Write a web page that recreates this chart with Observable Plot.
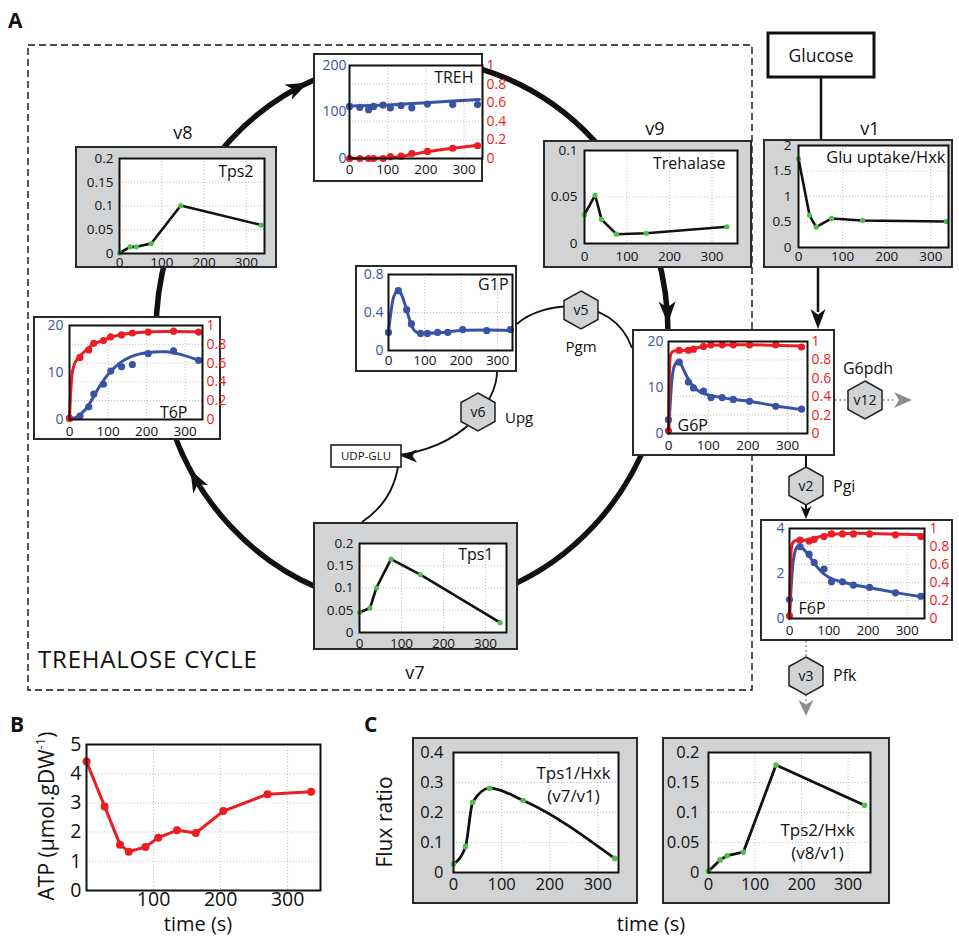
<!DOCTYPE html>
<html>
<head>
<meta charset="utf-8">
<script src="https://cdn.jsdelivr.net/npm/d3@7"></script>
<script src="https://cdn.jsdelivr.net/npm/@observablehq/plot@0.6"></script>
<style>
  body { margin: 0; background: #fff; }
  #fig { position: relative; width: 959px; height: 939px; overflow: hidden; font-family: "Open Sans", sans-serif; }
  .box { position: absolute; box-sizing: border-box; border: 2px solid #2a2a2a; }
  .gray { background: #d2d3d5; }
  .white { background: #fff; }
</style>
</head>
<body>
<div id="fig"></div>
<script>
// ---- measurement times (s) ----
const tMet = [0, 27, 50, 63, 88, 107, 135, 163, 204, 270, 335];
const tFlux = [0, 25, 40, 75, 145, 335];

// ---- estimated fluxes (mM/s) ----
const fluxHxk = [1.74, 0.63, 0.40, 0.57, 0.53, 0.51];
const fluxTrehalase = [0.031, 0.052, 0.026, 0.010, 0.011, 0.018];
const fluxTps2 = [0.001, 0.014, 0.014, 0.021, 0.101, 0.060];
const fluxTps1 = [0.045, 0.055, 0.100, 0.165, 0.130, 0.022];

// ---- flux ratios (panel C) ----
const ratioTps1Hxk = [0.028, 0.087, 0.234, 0.281, 0.240, 0.047];
const ratioTps2Hxk = [0.002, 0.021, 0.028, 0.034, 0.179, 0.112];

// ---- ATP (panel B) ----
const atp = [4.42, 2.88, 1.57, 1.33, 1.49, 1.81, 2.06, 1.97, 2.72, 3.30, 3.38];

// ---- metabolites: concentration (blue) and 13C-labelled fraction (red) ----
const trehConc = [112, 110, 105, 112, 115, 109, 114, 109, 117, 116, 116];
const trehFrac = [0, 0, 0, 0, 0, 0.02, 0.025, 0.054, 0.076, 0.11, 0.137];
const trehConcFitT = [0, 100, 200, 340];
const trehConcFit = [113, 115, 120, 127];
const trehFracFitT = [0, 80, 130, 200, 270, 340];
const trehFracFit = [0, 0.005, 0.02, 0.07, 0.11, 0.145];

const t6pConc = [0.3, 0.7, 2.7, 5.4, 7.5, 10.3, 11.2, 11.7, 14.0, 14.6, 12.6];
const t6pFrac = [0.01, 0.66, 0.74, 0.81, 0.84, 0.88, 0.90, 0.92, 0.93, 0.94, 0.93];
const t6pConcFitT = [0, 20, 40, 60, 80, 100, 130, 160, 200, 250, 290, 335];
const t6pConcFit = [0, 0.6, 2, 4.5, 7.3, 9.6, 12, 13.4, 14.2, 14.4, 13.8, 12.6];
const t6pFracFitT = [0, 4, 8, 15, 26, 46, 61, 85, 104, 130, 200, 270, 340];
const t6pFracFit = [0, 0.35, 0.52, 0.61, 0.67, 0.75, 0.8, 0.84, 0.87, 0.9, 0.93, 0.935, 0.93];

const g1pConc = [0.19, 0.63, 0.43, 0.28, 0.18, 0.18, 0.19, 0.19, 0.22, 0.21, 0.22];
const g1pConcFitT = [0, 6, 14, 24, 34, 44, 55, 66, 78, 100, 150, 200, 270, 335];
const g1pConcFit = [0.19, 0.38, 0.56, 0.63, 0.6, 0.5, 0.36, 0.24, 0.19, 0.18, 0.19, 0.21, 0.215, 0.21];

const g6pConc = [3.0, 15.5, 11.2, 9.9, 9.2, 7.8, 7.8, 7.4, 7.0, 5.9, 5.3];
const g6pFrac = [0.03, 0.905, 0.905, 0.917, 0.946, 0.964, 0.964, 0.964, 0.964, 0.964, 0.94];
const g6pConcFitT = [0, 4, 8, 14, 22, 30, 40, 52, 65, 80, 100, 135, 165, 204, 270, 335];
const g6pConcFit = [0, 6, 11, 14.5, 15.6, 15.2, 13.5, 11.5, 10, 9, 8.4, 7.8, 7.4, 7.0, 6.0, 5.2];
const g6pFracFitT = [0, 2, 5, 10, 30, 55, 80, 110, 200, 335];
const g6pFracFit = [0, 0.5, 0.85, 0.89, 0.9, 0.91, 0.94, 0.96, 0.965, 0.95];

const f6pConc = [0.84, 3.19, 2.86, 2.49, 2.2, 1.63, 1.63, 1.48, 1.38, 1.14, 0.99];
const f6pFrac = [0.03, 0.87, 0.86, 0.88, 0.91, 0.94, 0.94, 0.94, 0.94, 0.93, 0.91];
const f6pConcFitT = [0, 5, 10, 18, 26, 40, 55, 70, 90, 110, 135, 163, 204, 270, 335];
const f6pConcFit = [0, 1.6, 2.6, 3.15, 3.2, 3.0, 2.65, 2.3, 1.95, 1.75, 1.62, 1.5, 1.37, 1.15, 0.97];
const f6pFracFitT = [0, 3, 7, 14, 40, 70, 100, 150, 250, 335];
const f6pFracFit = [0, 0.6, 0.83, 0.865, 0.87, 0.9, 0.93, 0.945, 0.94, 0.93];

// ---- tick values ----
const xTicks = [0, 100, 200, 300];
const fracTicks = [0, 0.2, 0.4, 0.6, 0.8, 1];
const fluxTicks02 = [0, 0.05, 0.1, 0.15, 0.2];
const fluxTicks01 = [0, 0.05, 0.1];
const fluxTicks2 = [0, 0.5, 1, 1.5, 2];
const ratioTicks04 = [0, 0.1, 0.2, 0.3, 0.4];
const atpTicks = [0, 1, 2, 3, 4, 5];

// ---- styling ----
const FONT = "'Open Sans', sans-serif";
const BLUE = "#3953a4", RED = "#ec1c24", GREEN = "#4dbf4a";
const fmt = d3.format("~g");
const gridStyle = {stroke: "#9a9a9a", strokeOpacity: 0.8, strokeWidth: 0.8, strokeDasharray: "1,2"};
const zip = (t, v, k = 1) => t.map((d, i) => ({t: d, v: v[i] * k}));

const fig = document.getElementById("fig");

// background layer: cycle, connectors, labels
const svg = d3.select(fig).append("svg")
  .attr("width", 959).attr("height", 939)
  .style("position", "absolute").style("left", "0px").style("top", "0px")
  .attr("font-family", FONT);

function addBox(cls, [x0, y0, x1, y1], bw = 2) {
  const d = document.createElement("div");
  d.className = "box " + cls;
  Object.assign(d.style, {left: x0 + "px", top: y0 + "px", width: (x1 - x0) + "px", height: (y1 - y0) + "px", borderWidth: bw + "px"});
  fig.appendChild(d);
  return d;
}
function mountPlot(div, plot, bw = 2) {
  plot.style.position = "absolute";
  plot.style.left = -bw + "px";
  plot.style.top = -bw + "px";
  div.appendChild(plot);
}
function layout(box, frame) {
  return {
    width: box[2] - box[0], height: box[3] - box[1],
    marginLeft: frame[0] - box[0], marginTop: frame[1] - box[1],
    marginRight: box[2] - frame[2], marginBottom: box[3] - frame[3]
  };
}
const plotStyle = {background: "none", overflow: "visible", maxWidth: "none", fontFamily: FONT, color: "#111"};

// single-axis flux panel
function fluxPanel(c) {
  const rows = zip(c.t, c.v);
  const div = addBox(c.cls, c.box);
  const plot = Plot.plot({
    ...layout(c.box, c.frame),
    style: plotStyle,
    x: {domain: [0, c.xMax]},
    y: {domain: [0, c.yMax]},
    marks: [
      Plot.frame({fill: "white", stroke: "none"}),
      Plot.gridX({ticks: [100, 200, 300], ...gridStyle}),
      Plot.gridY({ticks: c.yTicks.slice(1, -1), ...gridStyle}),
      Plot.axisX({ticks: xTicks, tickSize: 0, tickPadding: c.padX, fontSize: c.fs, label: null, color: "#111"}),
      Plot.axisY({ticks: c.yTicks, tickSize: 0, tickPadding: c.padY, fontSize: c.fs, tickFormat: fmt, label: null, color: "#111"}),
      Plot.line(rows, {x: "t", y: "v", stroke: "#111", strokeWidth: c.lw || 2.6, curve: c.curve || "linear"}),
      Plot.dot(rows, {x: "t", y: "v", fill: GREEN, r: c.r || 2.6}),
      Plot.frame({stroke: "#111", strokeWidth: 2}),
      Plot.text([c.label], {text: d => d, frameAnchor: c.anchor || "top-right", textAnchor: c.textAnchor || "end",
        lineAnchor: "top", dx: c.dx, dy: c.dy, fontSize: c.lfs || 16, lineHeight: c.lh || 1, fill: "#111"})
    ]
  });
  mountPlot(div, plot);
}

// metabolite panel: concentration on the left axis, labelled fraction on the right axis
function metPanel(c) {
  const k = c.yMax;
  const blueRows = zip(tMet, c.conc);
  const blueFit = zip(c.concFitT, c.concFit);
  const hasRed = !!c.frac;
  const div = addBox("white", c.box);
  const marks = [
    Plot.frame({fill: "white", stroke: "none"}),
    Plot.gridX({ticks: [100, 200, 300], ...gridStyle}),
    Plot.gridY({ticks: hasRed ? fracTicks.slice(1, -1).map(d => d * k) : c.leftTicks.slice(1, -1), ...gridStyle}),
    Plot.axisX({ticks: xTicks, tickSize: 0, tickPadding: c.padX, fontSize: 13.5, label: null, color: "#111"}),
    Plot.axisY({ticks: c.leftTicks, tickSize: 0, tickPadding: c.padY, fontSize: 14, tickFormat: fmt, label: null, color: BLUE})
  ];
  if (hasRed) {
    marks.push(Plot.axisY({anchor: "right", ticks: fracTicks.map(d => d * k), tickSize: 0, tickPadding: c.padR, fontSize: 14,
      tickFormat: d => fmt(+(d / k).toFixed(3)), label: null, color: RED}));
  }
  marks.push(
    Plot.line(blueFit, {x: "t", y: "v", stroke: BLUE, strokeWidth: 3, curve: "catmull-rom"}),
    Plot.dot(blueRows, {x: "t", y: "v", fill: BLUE, r: 3.6})
  );
  if (hasRed) {
    marks.push(
      Plot.line(zip(c.fracFitT, c.fracFit, k), {x: "t", y: "v", stroke: RED, strokeWidth: 3, curve: "catmull-rom"}),
      Plot.dot(zip(tMet, c.frac, k), {x: "t", y: "v", fill: RED, r: 3.6})
    );
  }
  marks.push(
    Plot.frame({stroke: "#111", strokeWidth: 2}),
    Plot.text([c.label], {text: d => d, frameAnchor: c.anchor, textAnchor: c.textAnchor, lineAnchor: c.lineAnchor || "top",
      dx: c.dx, dy: c.dy, fontSize: 16, fill: "#111"})
  );
  const plot = Plot.plot({
    ...layout(c.box, c.frame),
    style: plotStyle,
    x: {domain: [0, c.xMax]},
    y: {domain: [0, c.yMax]},
    marks
  });
  mountPlot(div, plot);
}

// ---------- diagram background ----------
function arrowHead(tip, ang, L, W, fill) {
  const ux = Math.cos(ang), uy = Math.sin(ang), px = -uy, py = ux;
  const [x, y] = tip;
  const pts = [
    [x, y],
    [x - L * ux + W / 2 * px, y - L * uy + W / 2 * py],
    [x - 0.72 * L * ux, y - 0.72 * L * uy],
    [x - L * ux - W / 2 * px, y - L * uy - W / 2 * py]
  ];
  svg.append("polygon").attr("points", pts.map(p => p.join(",")).join(" ")).attr("fill", fill);
}
function hexagon(cx, cy, name) {
  const w = 34, h = 38;
  const pts = [[cx, cy - h / 2], [cx + w / 2, cy - h / 4], [cx + w / 2, cy + h / 4], [cx, cy + h / 2], [cx - w / 2, cy + h / 4], [cx - w / 2, cy - h / 4]];
  svg.append("polygon").attr("points", pts.map(p => p.join(",")).join(" "))
    .attr("fill", "#d2d3d5").attr("stroke", "#222").attr("stroke-width", 1.5);
  svg.append("text").attr("x", cx).attr("y", cy).attr("dy", "0.36em").attr("text-anchor", "middle")
    .attr("font-size", 14).attr("fill", "#111").text(name);
}
function label(x, y, str, size, opts = {}) {
  const t = svg.append("text").attr("x", x).attr("y", y).attr("font-size", size).attr("fill", "#111")
    .attr("text-anchor", opts.anchor || "start").text(str);
  if (opts.bold) t.attr("font-weight", 700);
  if (opts.spacing) t.attr("letter-spacing", opts.spacing);
  if (opts.rotate) t.attr("transform", `rotate(-90 ${x} ${y})`);
  return t;
}

// dashed boundary of the trehalose cycle
svg.append("rect").attr("x", 28).attr("y", 45).attr("width", 724).attr("height", 645)
  .attr("fill", "none").attr("stroke", "#111").attr("stroke-width", 1.4).attr("stroke-dasharray", "7,4");

// the cycle
const E = {cx: 412, cy: 333, rx: 256, ry: 274};
svg.append("ellipse").attr("cx", E.cx).attr("cy", E.cy).attr("rx", E.rx).attr("ry", E.ry)
  .attr("fill", "none").attr("stroke", "#111").attr("stroke-width", 5.5);
function cycleArrow(deg) {
  const t = deg * Math.PI / 180;
  const tip = [E.cx + E.rx * Math.cos(t), E.cy + E.ry * Math.sin(t)];
  const ang = Math.atan2(E.ry * Math.cos(t), -E.rx * Math.sin(t));
  arrowHead(tip, ang, 22, 17, "#111");
}
cycleArrow(246);
cycleArrow(-2);
cycleArrow(150);

// inner branch G6P -> G1P -> UDP-GLU -> Tps1
const thin = {fill: "none", stroke: "#111", "stroke-width": 1.8};
function path(d, st = thin) {
  const p = svg.append("path").attr("d", d);
  Object.entries(st).forEach(([k, v]) => p.attr(k, v));
}
path("M517,324 C540,302 612,292 632,348");
path("M497,372 C497,398 468,448 392,456");
arrowHead([401, 456], Math.PI, 16, 13, "#111");
path("M398,467 Q392,502 362,522");

// glycolysis connectors
const thick = {fill: "none", stroke: "#111", "stroke-width": 2.5};
path("M821,77 L821,139", thick);
path("M818,268 L818,312", thick);
arrowHead([818, 329], Math.PI / 2, 20, 15, "#111");
path("M806,456 L806,467", {...thin, "stroke-width": 2});
path("M806,505 L806,510", {...thin, "stroke-width": 2});
arrowHead([806, 519], Math.PI / 2, 13, 11, "#111");
const dotted = {fill: "none", stroke: "#9a9a9a", "stroke-width": 2, "stroke-dasharray": "1.5,3"};
path("M835,400 L848,400", dotted);
path("M883,400 L896,400", dotted);
arrowHead([912, 400], 0, 18, 16, "#8e8e8e");
path("M806,641 L806,657", dotted);
path("M806,695 L806,702", dotted);
arrowHead([806, 716], Math.PI / 2, 16, 15, "#8e8e8e");

hexagon(581, 310, "v5");
hexagon(478, 412, "v6");
hexagon(865, 400, "v12");
hexagon(806, 486, "v2");
hexagon(806, 676, "v3");

label(581, 352, "Pgm", 15, {anchor: "middle"});
label(505, 423, "Upg", 15);
label(868, 374, "G6pdh", 16, {anchor: "middle"});
label(833, 492, "Pgi", 16);
label(833, 681, "Pfk", 16);

label(8, 28, "A", 21, {bold: true});
label(10, 732, "B", 21, {bold: true});
label(364, 732, "C", 21, {bold: true});
label(183, 139, "v8", 18, {anchor: "middle"});
label(655, 135, "v9", 18, {anchor: "middle"});
label(870, 135, "v1", 18, {anchor: "middle"});
label(415, 679, "v7", 18, {anchor: "middle"});
label(38, 668, "TREHALOSE CYCLE", 24, {spacing: 0.8});

// Glucose and UDP-GLU boxes
svg.append("rect").attr("x", 768).attr("y", 33).attr("width", 106).attr("height", 44)
  .attr("fill", "white").attr("stroke", "#111").attr("stroke-width", 3);
label(821, 62, "Glucose", 17.5, {anchor: "middle"});
svg.append("rect").attr("x", 331).attr("y", 445).attr("width", 70).attr("height", 22)
  .attr("fill", "white").attr("stroke", "#111").attr("stroke-width", 1.5);
label(366, 460, "UDP-GLU", 11.5, {anchor: "middle"});

// axis titles of B and C
const atpLab = label(54, 816, "ATP (µmol.gDW", 21, {anchor: "middle", rotate: true});
atpLab.append("tspan").attr("font-size", 13).attr("dy", -9).text("-1");
atpLab.append("tspan").attr("dy", 9).text(")");
label(198, 931, "time (s)", 20, {anchor: "middle"});
label(392, 822, "Flux ratio", 21, {anchor: "middle", rotate: true});
label(651, 931, "time (s)", 20, {anchor: "middle"});

// ---------- panels of A ----------
fluxPanel({cls: "gray", box: [75, 146, 277, 268], frame: [119, 158, 264, 253], xMax: 343, yMax: 0.2,
  yTicks: fluxTicks02, t: tFlux, v: fluxTps2, label: "Tps2", dx: -11, dy: 7, fs: 13.5, padX: 4, padY: 6});
fluxPanel({cls: "gray", box: [543, 140, 752, 268], frame: [584, 150, 737, 243], xMax: 360, yMax: 0.1,
  yTicks: fluxTicks01, t: tFlux, v: fluxTrehalase, label: "Trehalase", dx: -12, dy: 7, fs: 13.5, padX: 8, padY: 7});
fluxPanel({cls: "gray", box: [763, 139, 953, 268], frame: [798, 145, 948, 247], xMax: 340, yMax: 2,
  yTicks: fluxTicks2, t: tFlux, v: fluxHxk, label: "Glu uptake/Hxk", dx: -3, dy: 6, fs: 13.5, lfs: 16.5, padX: 4, padY: 7});
fluxPanel({cls: "gray", box: [313, 522, 518, 650], frame: [359, 543, 506, 632], xMax: 350, yMax: 0.2,
  yTicks: fluxTicks02, t: tFlux, v: fluxTps1, label: "Tps1", dx: -13, dy: 5, fs: 13.5, padX: 6, padY: 6});

metPanel({box: [313, 53, 483, 182], frame: [349, 65, 482, 158], xMax: 348, yMax: 200, leftTicks: [0, 100, 200],
  conc: trehConc, frac: trehFrac, concFitT: trehConcFitT, concFit: trehConcFit, fracFitT: trehFracFitT, fracFit: trehFracFit,
  label: "TREH", anchor: "top-right", textAnchor: "end", dx: -9, dy: 6, padX: 6, padY: 3, padR: 4});
metPanel({box: [33, 316, 221, 440], frame: [69, 325, 202, 419], xMax: 345, yMax: 20, leftTicks: [0, 10, 20],
  conc: t6pConc, frac: t6pFrac, concFitT: t6pConcFitT, concFit: t6pConcFit, fracFitT: t6pFracFitT, fracFit: t6pFracFit,
  label: "T6P", anchor: "bottom-right", textAnchor: "end", lineAnchor: "bottom", dx: -15, dy: -2, padX: 7, padY: 6, padR: 4});
metPanel({box: [355, 265, 517, 372], frame: [388, 274, 512, 350], xMax: 341, yMax: 0.8, leftTicks: [0, 0.4, 0.8],
  conc: g1pConc, concFitT: g1pConcFitT, concFit: g1pConcFit,
  label: "G1P", anchor: "top-right", textAnchor: "end", dx: -4, dy: 4, padX: 5, padY: 5});
metPanel({box: [632, 329, 835, 456], frame: [668, 341, 807, 433], xMax: 350, yMax: 20, leftTicks: [0, 10, 20],
  conc: g6pConc, frac: g6pFrac, concFitT: g6pConcFitT, concFit: g6pConcFit, fracFitT: g6pFracFitT, fracFit: g6pFracFit,
  label: "G6P", anchor: "bottom-left", textAnchor: "start", lineAnchor: "bottom", dx: 9, dy: -3, padX: 7, padY: 5, padR: 4});
metPanel({box: [760, 519, 953, 641], frame: [789, 528, 924, 618], xMax: 344, yMax: 4, leftTicks: [0, 2, 4],
  conc: f6pConc, frac: f6pFrac, concFitT: f6pConcFitT, concFit: f6pConcFit, fracFitT: f6pFracFitT, fracFit: f6pFracFit,
  label: "F6P", anchor: "bottom-left", textAnchor: "start", lineAnchor: "bottom", dx: 9, dy: -5, padX: 7, padY: 5, padR: 5});

// ---------- panel B: ATP ----------
{
  const rows = zip(tMet, atp);
  const plot = Plot.plot({
    width: 340, height: 239, marginLeft: 86, marginTop: 44, marginRight: 20, marginBottom: 49,
    style: plotStyle,
    x: {domain: [0, 349]},
    y: {domain: [0, 5]},
    marks: [
      Plot.gridX({ticks: [100, 200, 300], ...gridStyle}),
      Plot.gridY({ticks: [1, 2, 3, 4], ...gridStyle}),
      Plot.axisX({ticks: [100, 200, 300], tickSize: 0, tickPadding: 2, fontSize: 19.5, label: null, color: "#111"}),
      Plot.axisY({ticks: atpTicks, tickSize: 0, tickPadding: 5, fontSize: 19.5, tickFormat: fmt, label: null, color: "#111"}),
      Plot.line(rows, {x: "t", y: "v", stroke: RED, strokeWidth: 3}),
      Plot.dot(rows, {x: "t", y: "v", fill: RED, r: 4}),
      Plot.frame({stroke: "#111", strokeWidth: 2})
    ]
  });
  plot.style.position = "absolute";
  plot.style.left = "0px";
  plot.style.top = "700px";
  fig.appendChild(plot);
}

// ---------- panel C: flux ratios ----------
fluxPanel({cls: "gray", box: [412, 737, 638, 904], frame: [453, 752, 618, 872], xMax: 343, yMax: 0.4,
  yTicks: ratioTicks04, t: tFlux, v: ratioTps1Hxk, label: "Tps1/Hxk\n(v7/v1)", textAnchor: "middle", lh: 1.35,
  dx: -45, dy: 10, fs: 16.5, lfs: 17, padX: 6, padY: 10, curve: "monotone-x", lw: 2.8, r: 2.8});
fluxPanel({cls: "gray", box: [662, 737, 890, 904], frame: [708, 752, 870, 872], xMax: 348, yMax: 0.2,
  yTicks: fluxTicks02, t: tFlux, v: ratioTps2Hxk, label: "Tps2/Hxk\n(v8/v1)", textAnchor: "middle", lh: 1.35,
  dx: -53, dy: 67, fs: 16.5, lfs: 17, padX: 6, padY: 9, curve: "linear", lw: 2.8, r: 2.8});
</script>
</body>
</html>
